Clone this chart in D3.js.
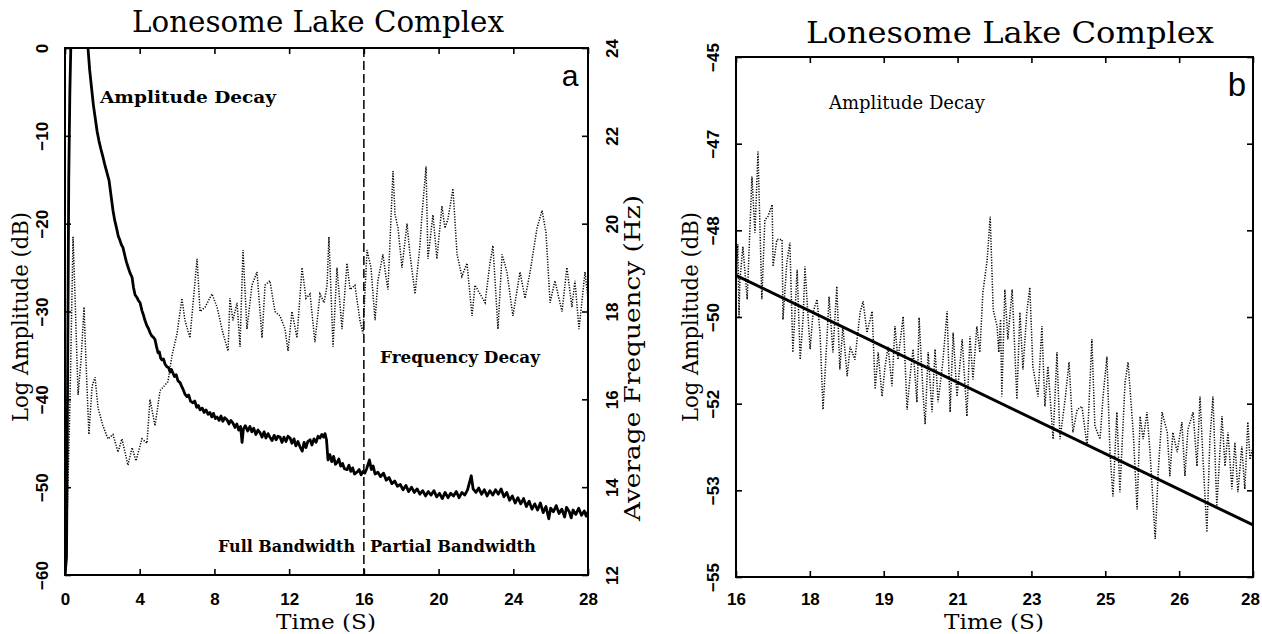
<!DOCTYPE html>
<html><head><meta charset="utf-8">
<script src="https://cdn.jsdelivr.net/npm/d3@7"></script>
<style>body{margin:0;background:#fff}svg{display:block}</style>
</head><body><svg id="c" width="1262" height="634"></svg>
<script>
// ---------- Panel a data ----------
const ampTime=[0.00,0.08,0.12,0.16,0.20,0.26,0.32,0.5,0.8,1.1,1.23,1.32,1.42,1.52,1.62,1.72,1.82,1.92,2.02,2.12,2.22,2.36,2.47,2.57,2.66,2.76,2.85,2.94,3.02,3.10,3.2,3.28,3.37,3.48,3.59,3.67,3.75,3.85,3.94,4.02,4.12,4.2,4.28,4.38,4.46,4.55,4.65,4.72,4.82,4.9,4.98,5.05,5.12,5.19,5.27,5.36,5.46,5.55,5.63,5.7,5.78,5.86,5.95,6.05,6.16,6.24,6.33,6.42,6.53,6.62,6.72,6.85,6.95,7.05,7.14,7.23,7.35,7.45,7.55,7.66,7.76,7.86,7.95,8.05,8.14,8.25,8.35,8.45,8.55,8.67,8.78,8.88,8.99,9.1,9.2,9.3,9.4,9.48,9.55,9.65,9.78,9.9,10.0,10.1,10.22,10.33,10.44,10.55,10.66,10.76,10.87,10.97,11.08,11.2,11.3,11.4,11.51,11.62,11.72,11.83,11.94,12.05,12.15,12.26,12.36,12.47,12.58,12.7,12.8,12.9,13.0,13.12,13.22,13.33,13.44,13.55,13.65,13.75,13.85,13.92,14.0,14.08,14.18,14.28,14.38,14.48,14.56,14.66,14.76,14.86,14.96,15.1,15.2,15.3,15.4,15.5,15.63,15.75,15.85,15.95,16.05,16.15,16.3,16.4,16.5,16.6,16.75,16.9,17.05,17.2,17.35,17.5,17.65,17.8,17.95,18.1,18.25,18.4,18.55,18.7,18.85,19.0,19.15,19.3,19.45,19.6,19.75,19.9,20.05,20.2,20.35,20.5,20.65,20.8,20.95,21.1,21.25,21.4,21.55,21.65,21.75,21.85,22.0,22.15,22.3,22.45,22.6,22.75,22.9,23.05,23.2,23.35,23.5,23.65,23.8,23.95,24.1,24.25,24.4,24.55,24.7,24.85,25.0,25.15,25.3,25.45,25.6,25.75,25.9,26.0,26.15,26.3,26.45,26.6,26.75,26.85,27.0,27.1,27.2,27.35,27.5,27.65,27.8,27.9,28.0];
const ampDb=[-60,-58,-45,-30,-15,-5,1,3,3,2,0,-2.5,-4.5,-6.5,-8,-9.5,-10.6,-11.5,-12.3,-13.2,-14,-15.1,-16.9,-18.5,-19.6,-20.5,-21.4,-21.9,-22.4,-22.7,-23.6,-24.3,-24.9,-25.6,-26.1,-27.3,-28.1,-28.4,-28.8,-29.0,-29.9,-30.4,-31.0,-31.6,-31.9,-32.4,-32.8,-32.9,-33.2,-34.0,-34.7,-34.6,-35.3,-35.5,-35.4,-36.0,-36.3,-36.4,-36.9,-36.6,-37.0,-37.4,-37.2,-37.9,-38.1,-38.5,-38.9,-39.4,-39.7,-39.5,-40.2,-40.4,-40.2,-40.9,-40.7,-41.2,-41.0,-41.5,-41.2,-41.7,-41.5,-42.0,-41.6,-42.2,-42.0,-42.4,-41.9,-42.5,-42.1,-42.3,-42.8,-42.4,-42.7,-43.2,-42.8,-43.5,-43.1,-44.9,-43.4,-43.0,-43.6,-43.1,-43.7,-43.3,-44.0,-43.5,-43.8,-44.3,-43.7,-44.4,-43.9,-44.3,-44.7,-44.1,-44.6,-44.2,-44.3,-44.9,-44.3,-44.8,-44.2,-44.4,-45.0,-44.5,-45.3,-44.8,-45.4,-45.9,-44.9,-45.5,-44.8,-44.6,-45.2,-44.5,-44.9,-44.2,-44.4,-44.0,-44.3,-43.9,-44.6,-46.9,-46.3,-47.1,-46.5,-47.4,-47.2,-46.8,-47.6,-47.3,-47.9,-48.0,-47.5,-48.2,-47.8,-48.5,-48.3,-48.0,-48.6,-48.2,-48.4,-47.9,-46.9,-48.0,-47.6,-48.5,-48.3,-48.8,-48.4,-49.2,-48.9,-49.6,-49.3,-49.9,-49.7,-50.3,-49.8,-50.5,-50.0,-50.6,-50.2,-50.8,-50.4,-51.0,-50.5,-50.9,-50.4,-51.1,-50.7,-51.3,-50.6,-51.2,-50.7,-51.0,-50.5,-51.2,-50.6,-50.9,-50.3,-49.5,-48.7,-50.2,-50.6,-50.1,-50.8,-50.3,-51.0,-50.4,-50.9,-50.3,-50.8,-50.2,-51.1,-50.6,-51.5,-51.0,-51.8,-51.2,-51.9,-51.3,-52.2,-51.6,-52.5,-51.9,-52.6,-51.8,-52.9,-52.2,-53.6,-52.4,-52.8,-52.1,-53.0,-52.5,-53.4,-52.3,-52.8,-53.5,-52.6,-53.1,-52.4,-53.2,-52.7,-53.3,-52.8];
const freqTime=[0.0,0.05,0.27,0.43,0.54,0.70,0.86,1.02,1.12,1.28,1.45,1.61,1.77,2.03,2.30,2.57,2.84,3.05,3.37,3.59,3.80,4.12,4.39,4.55,4.82,5.09,5.51,5.73,6.0,6.26,6.42,6.69,7.07,7.23,7.5,7.87,8.14,8.46,8.73,8.83,8.99,9.21,9.37,9.53,9.74,10.01,10.28,10.55,10.71,10.97,11.24,11.51,11.78,11.94,12.15,12.42,12.69,12.9,13.12,13.38,13.65,13.87,14.03,14.13,14.35,14.56,14.83,15.1,15.26,15.52,15.79,15.95,16.17,16.38,16.6,16.75,17.02,17.18,17.29,17.56,17.67,17.83,18.04,18.31,18.47,18.74,19.0,19.11,19.33,19.43,19.7,19.91,20.18,20.34,20.5,20.77,20.99,21.25,21.52,21.79,21.95,22.22,22.49,22.75,22.91,23.18,23.4,23.66,23.98,24.36,24.63,24.9,25.27,25.54,25.75,25.97,26.23,26.39,26.61,26.87,27.14,27.3,27.52,27.84,28.0];
const freqHz=[11.5,12.2,16.0,19.7,18.3,16.1,16.9,18.1,16.9,15.2,16.3,16.5,15.8,15.4,15.1,15.2,14.8,15.1,14.5,14.9,14.6,15.1,15.0,16.0,15.4,16.2,16.4,17.0,17.5,18.3,17.8,17.4,19.2,18.0,18.1,18.4,18.1,17.5,17.1,18.3,17.8,18.2,17.2,19.4,17.6,18.6,18.9,17.4,18.6,18.7,18.0,17.9,17.6,17.1,18.0,17.4,19.0,18.3,18.4,17.3,18.4,18.2,18.6,19.7,17.2,19.0,17.6,19.1,18.5,18.6,17.8,17.5,19.4,19.0,17.8,18.7,19.3,18.8,18.5,21.2,20.2,19.9,19.0,20.0,19.3,18.4,19.5,20.2,21.3,19.2,20.2,19.2,20.4,19.9,20.1,20.8,19.3,18.8,19.1,17.9,18.6,18.4,18.2,19.1,19.5,17.6,19.3,18.9,17.9,18.9,18.3,18.9,19.9,20.3,19.8,18.2,18.7,18.4,18.0,19.0,18.1,18.7,17.6,18.9,18.3];
const aTimeTicks=[0,4,8,12,16,20,24,28];
const aAmpTicks=[0,-10,-20,-30,-40,-50,-60];
const aFreqTicks=[12,14,16,18,20,22,24];
const bandSplit=[16];

// ---------- Panel b data ----------
const bTime=[16.00,16.04,16.07,16.09,16.16,16.26,16.37,16.44,16.51,16.60,16.67,16.74,16.84,16.86,16.95,17.07,17.09,17.18,17.25,17.32,17.42,17.49,17.56,17.60,17.72,17.79,17.88,17.95,18.02,18.11,18.16,18.25,18.34,18.41,18.48,18.58,18.65,18.76,18.88,18.95,19.04,19.16,19.23,19.30,19.39,19.46,19.53,19.62,19.69,19.76,19.88,19.97,20.04,20.11,20.20,20.25,20.34,20.39,20.46,20.55,20.62,20.69,20.80,20.90,20.97,21.04,21.13,21.25,21.36,21.43,21.50,21.59,21.66,21.73,21.83,21.90,21.97,22.06,22.10,22.14,22.17,22.24,22.31,22.41,22.52,22.59,22.66,22.75,22.82,22.89,23.01,23.10,23.17,23.24,23.36,23.45,23.52,23.64,23.73,23.82,23.92,24.03,24.15,24.26,24.33,24.45,24.52,24.61,24.68,24.75,24.84,24.91,25.03,25.10,25.22,25.31,25.38,25.45,25.54,25.61,25.73,25.80,25.89,26.01,26.07,26.14,26.24,26.35,26.42,26.49,26.61,26.70,26.77,26.84,26.93,27.00,27.07,27.16,27.28,27.35,27.42,27.51,27.58,27.65,27.74,27.81,27.88,27.93,28.00];
const bDb=[-49.4,-48.6,-50.0,-49.3,-48.65,-49.66,-47.30,-48.38,-46.82,-49.66,-48.13,-48.07,-47.84,-49.03,-48.51,-48.51,-50.05,-48.95,-48.57,-50.68,-49.09,-50.82,-49.99,-49.03,-50.62,-49.91,-49.66,-50.30,-51.78,-50.43,-49.61,-50.68,-49.41,-51.01,-50.18,-51.14,-50.57,-50.82,-49.91,-49.70,-50.30,-49.89,-51.39,-50.68,-51.53,-50.95,-50.57,-51.33,-50.18,-50.82,-49.99,-51.78,-51.14,-50.62,-51.64,-50.01,-51.45,-52.06,-50.68,-51.83,-50.62,-51.64,-50.87,-49.89,-51.83,-50.30,-51.53,-50.43,-51.91,-50.37,-51.20,-50.18,-50.68,-49.53,-48.90,-48.07,-49.86,-50.18,-50.68,-50.05,-51.53,-49.47,-50.43,-49.47,-51.58,-49.91,-51.01,-49.91,-49.43,-50.95,-51.53,-50.18,-51.72,-50.95,-52.35,-50.68,-52.35,-51.58,-50.87,-52.22,-51.78,-51.72,-52.49,-50.43,-52.10,-52.35,-51.53,-50.76,-52.60,-53.45,-51.83,-53.37,-51.26,-50.87,-52.22,-53.70,-51.91,-52.35,-51.83,-52.60,-54.27,-52.98,-51.83,-52.22,-53.06,-52.22,-52.60,-52.02,-53.06,-52.16,-51.83,-52.87,-51.53,-52.74,-54.14,-52.35,-51.53,-53.64,-51.91,-52.87,-52.22,-53.31,-52.41,-53.37,-52.49,-53.31,-52.02,-52.74,-52.5];
const fitTime=[16,28];
const fitDb=[-49.2,-54.0];
const bTimeTicks=[16,17.714,19.429,21.143,22.857,24.571,26.286,28];
const bTimeLabels=["16","18","19","21","23","25","26","28"];
const bAmpTicks=[-55,-53.333,-51.667,-50,-48.333,-46.667,-45];
const bAmpLabels=["−55","−53","−52","−50","−48","−47","−45"];

const svg=d3.select("#c");
const SANS='"Liberation Sans", Arial, sans-serif';
const SERIF='"DejaVu Serif", "Liberation Serif", serif';

function frame(x0,x1,y0,y1){
  svg.append("rect").attr("x",x0).attr("y",y0).attr("width",x1-x0).attr("height",y1-y0)
    .attr("fill","none").attr("stroke","#000").attr("stroke-width",2);
}
function clip(id,x0,x1,y0,y1){
  svg.append("clipPath").attr("id",id).append("rect").attr("x",x0).attr("y",y0).attr("width",x1-x0).attr("height",y1-y0);
}
function styleAxis(g){
  g.select(".domain").remove();
  g.attr("font-size",null).attr("font-family",null);
  g.selectAll(".tick line").attr("stroke","#000").attr("stroke-width",1.6);
  g.selectAll("text").attr("font-family",SANS).attr("font-size",17).attr("font-weight","bold").attr("fill","#000");
}
function rotLabels(g,off){
  g.selectAll(".tick text").attr("x",0).attr("y",off).attr("dy",null).attr("text-anchor","middle").attr("transform","rotate(-90)");
}

// ===== Panel a =====
const xa=d3.scaleLinear([0,28],[65,588]);
const ya=d3.scaleLinear([-60,0],[575,48]);
const yf=d3.scaleLinear([12,24],[575,48]);
clip("ca",65,588,48,575);
svg.append("line").attr("x1",xa(bandSplit[0])).attr("x2",xa(bandSplit[0])).attr("y1",48).attr("y2",575)
  .attr("stroke","#000").attr("stroke-width",1.5).attr("stroke-dasharray","9,4");
svg.append("path").attr("clip-path","url(#ca)")
  .attr("d",d3.line().x((d,i)=>xa(freqTime[i])).y((d,i)=>yf(d))(freqHz))
  .attr("fill","none").attr("stroke","#000").attr("stroke-width",1.5).attr("stroke-dasharray","1.2,1.5");
svg.append("path").attr("clip-path","url(#ca)")
  .attr("d",d3.line().x((d,i)=>xa(ampTime[i])).y((d,i)=>ya(d))(ampDb))
  .attr("fill","none").attr("stroke","#000").attr("stroke-width",2.8).attr("stroke-linejoin","round");
frame(65,588,48,575);
let g;
g=svg.append("g").attr("transform","translate(0,575)").call(d3.axisBottom(xa).tickValues(aTimeTicks).tickSizeInner(-6).tickSizeOuter(0).tickPadding(18).tickFormat(d=>d));styleAxis(g);
g=svg.append("g").attr("transform","translate(0,48)").call(d3.axisTop(xa).tickValues(aTimeTicks).tickSizeInner(-6).tickSizeOuter(0).tickFormat(""));styleAxis(g);
g=svg.append("g").attr("transform","translate(65,0)").call(d3.axisLeft(ya).tickValues(aAmpTicks).tickSizeInner(-6).tickSizeOuter(0).tickFormat(d=>d===0?"0":"−"+Math.abs(d)));styleAxis(g);rotLabels(g,-17);
g=svg.append("g").attr("transform","translate(588,0)").call(d3.axisRight(yf).tickValues(aFreqTicks).tickSizeInner(-6).tickSizeOuter(0).tickFormat(d=>d));styleAxis(g);rotLabels(g,30);

// ===== Panel b =====
const xb=d3.scaleLinear([16,28],[736,1253]);
const yb=d3.scaleLinear([-55,-45],[577,57]);
clip("cb",736,1253,57,577);
svg.append("path").attr("clip-path","url(#cb)")
  .attr("d",d3.line().x((d,i)=>xb(bTime[i])).y((d,i)=>yb(d))(bDb))
  .attr("fill","none").attr("stroke","#000").attr("stroke-width",1.5).attr("stroke-dasharray","1.2,1.5");
svg.append("path").attr("clip-path","url(#cb)")
  .attr("d",d3.line().x((d,i)=>xb(fitTime[i])).y((d,i)=>yb(d))(fitDb))
  .attr("fill","none").attr("stroke","#000").attr("stroke-width",3);
frame(736,1253,57,577);
g=svg.append("g").attr("transform","translate(0,577)").call(d3.axisBottom(xb).tickValues(bTimeTicks).tickSizeInner(-6).tickSizeOuter(0).tickPadding(16).tickFormat((d,i)=>bTimeLabels[i]));styleAxis(g);
g.selectAll(".tick text").filter((d,i)=>i===bTimeTicks.length-1).attr("dx",-3);
g=svg.append("g").attr("transform","translate(0,57)").call(d3.axisTop(xb).tickValues(bTimeTicks).tickSizeInner(-6).tickSizeOuter(0).tickFormat(""));styleAxis(g);
g=svg.append("g").attr("transform","translate(736,0)").call(d3.axisLeft(yb).tickValues(bAmpTicks).tickSizeInner(-6).tickSizeOuter(0).tickFormat((d,i)=>bAmpLabels[i]));styleAxis(g);rotLabels(g,-17);
g=svg.append("g").attr("transform","translate(1253,0)").call(d3.axisRight(yb).tickValues(bAmpTicks).tickSizeInner(-6).tickSizeOuter(0).tickFormat(""));styleAxis(g);

// ===== Text =====
function txt(x,y,s,opts){
  const t=svg.append("text").attr("x",x).attr("y",y).text(s)
    .attr("font-family",opts.family||SERIF).attr("font-size",opts.size).attr("font-weight",opts.weight||"normal")
    .attr("text-anchor",opts.anchor||"middle").attr("fill","#000");
  if(opts.len) t.attr("textLength",opts.len).attr("lengthAdjust","spacingAndGlyphs");
  if(opts.rot) t.attr("transform",`rotate(-90,${x},${y})`);
  return t;
}
txt(318,32,"Lonesome  Lake  Complex",{size:29,len:372});
txt(1010,43,"Lonesome  Lake  Complex",{size:29,len:408});
txt(326,629,"Time  (S)",{size:21,len:100});
txt(994,629,"Time  (S)",{size:21,len:100});
txt(28,317,"Log  Amplitude  (dB)",{size:23,len:210,rot:true});
txt(698,317,"Log  Amplitude  (dB)",{size:23,len:210,rot:true});
txt(640,358,"Average  Frequency  (Hz)",{size:23,len:326,rot:true});
txt(100,103,"Amplitude  Decay",{size:17,weight:"bold",anchor:"start",len:176});
txt(380,363,"Frequency  Decay",{size:17,weight:"bold",anchor:"start",len:160});
txt(218,552,"Full  Bandwidth",{size:17,weight:"bold",anchor:"start",len:137});
txt(370,552,"Partial  Bandwidth",{size:17,weight:"bold",anchor:"start",len:166});
txt(907,109,"Amplitude  Decay",{size:19,len:156});
txt(570,86,"a",{size:30,family:SANS});
txt(1237,96,"b",{size:33,family:SANS});
</script></body></html>
